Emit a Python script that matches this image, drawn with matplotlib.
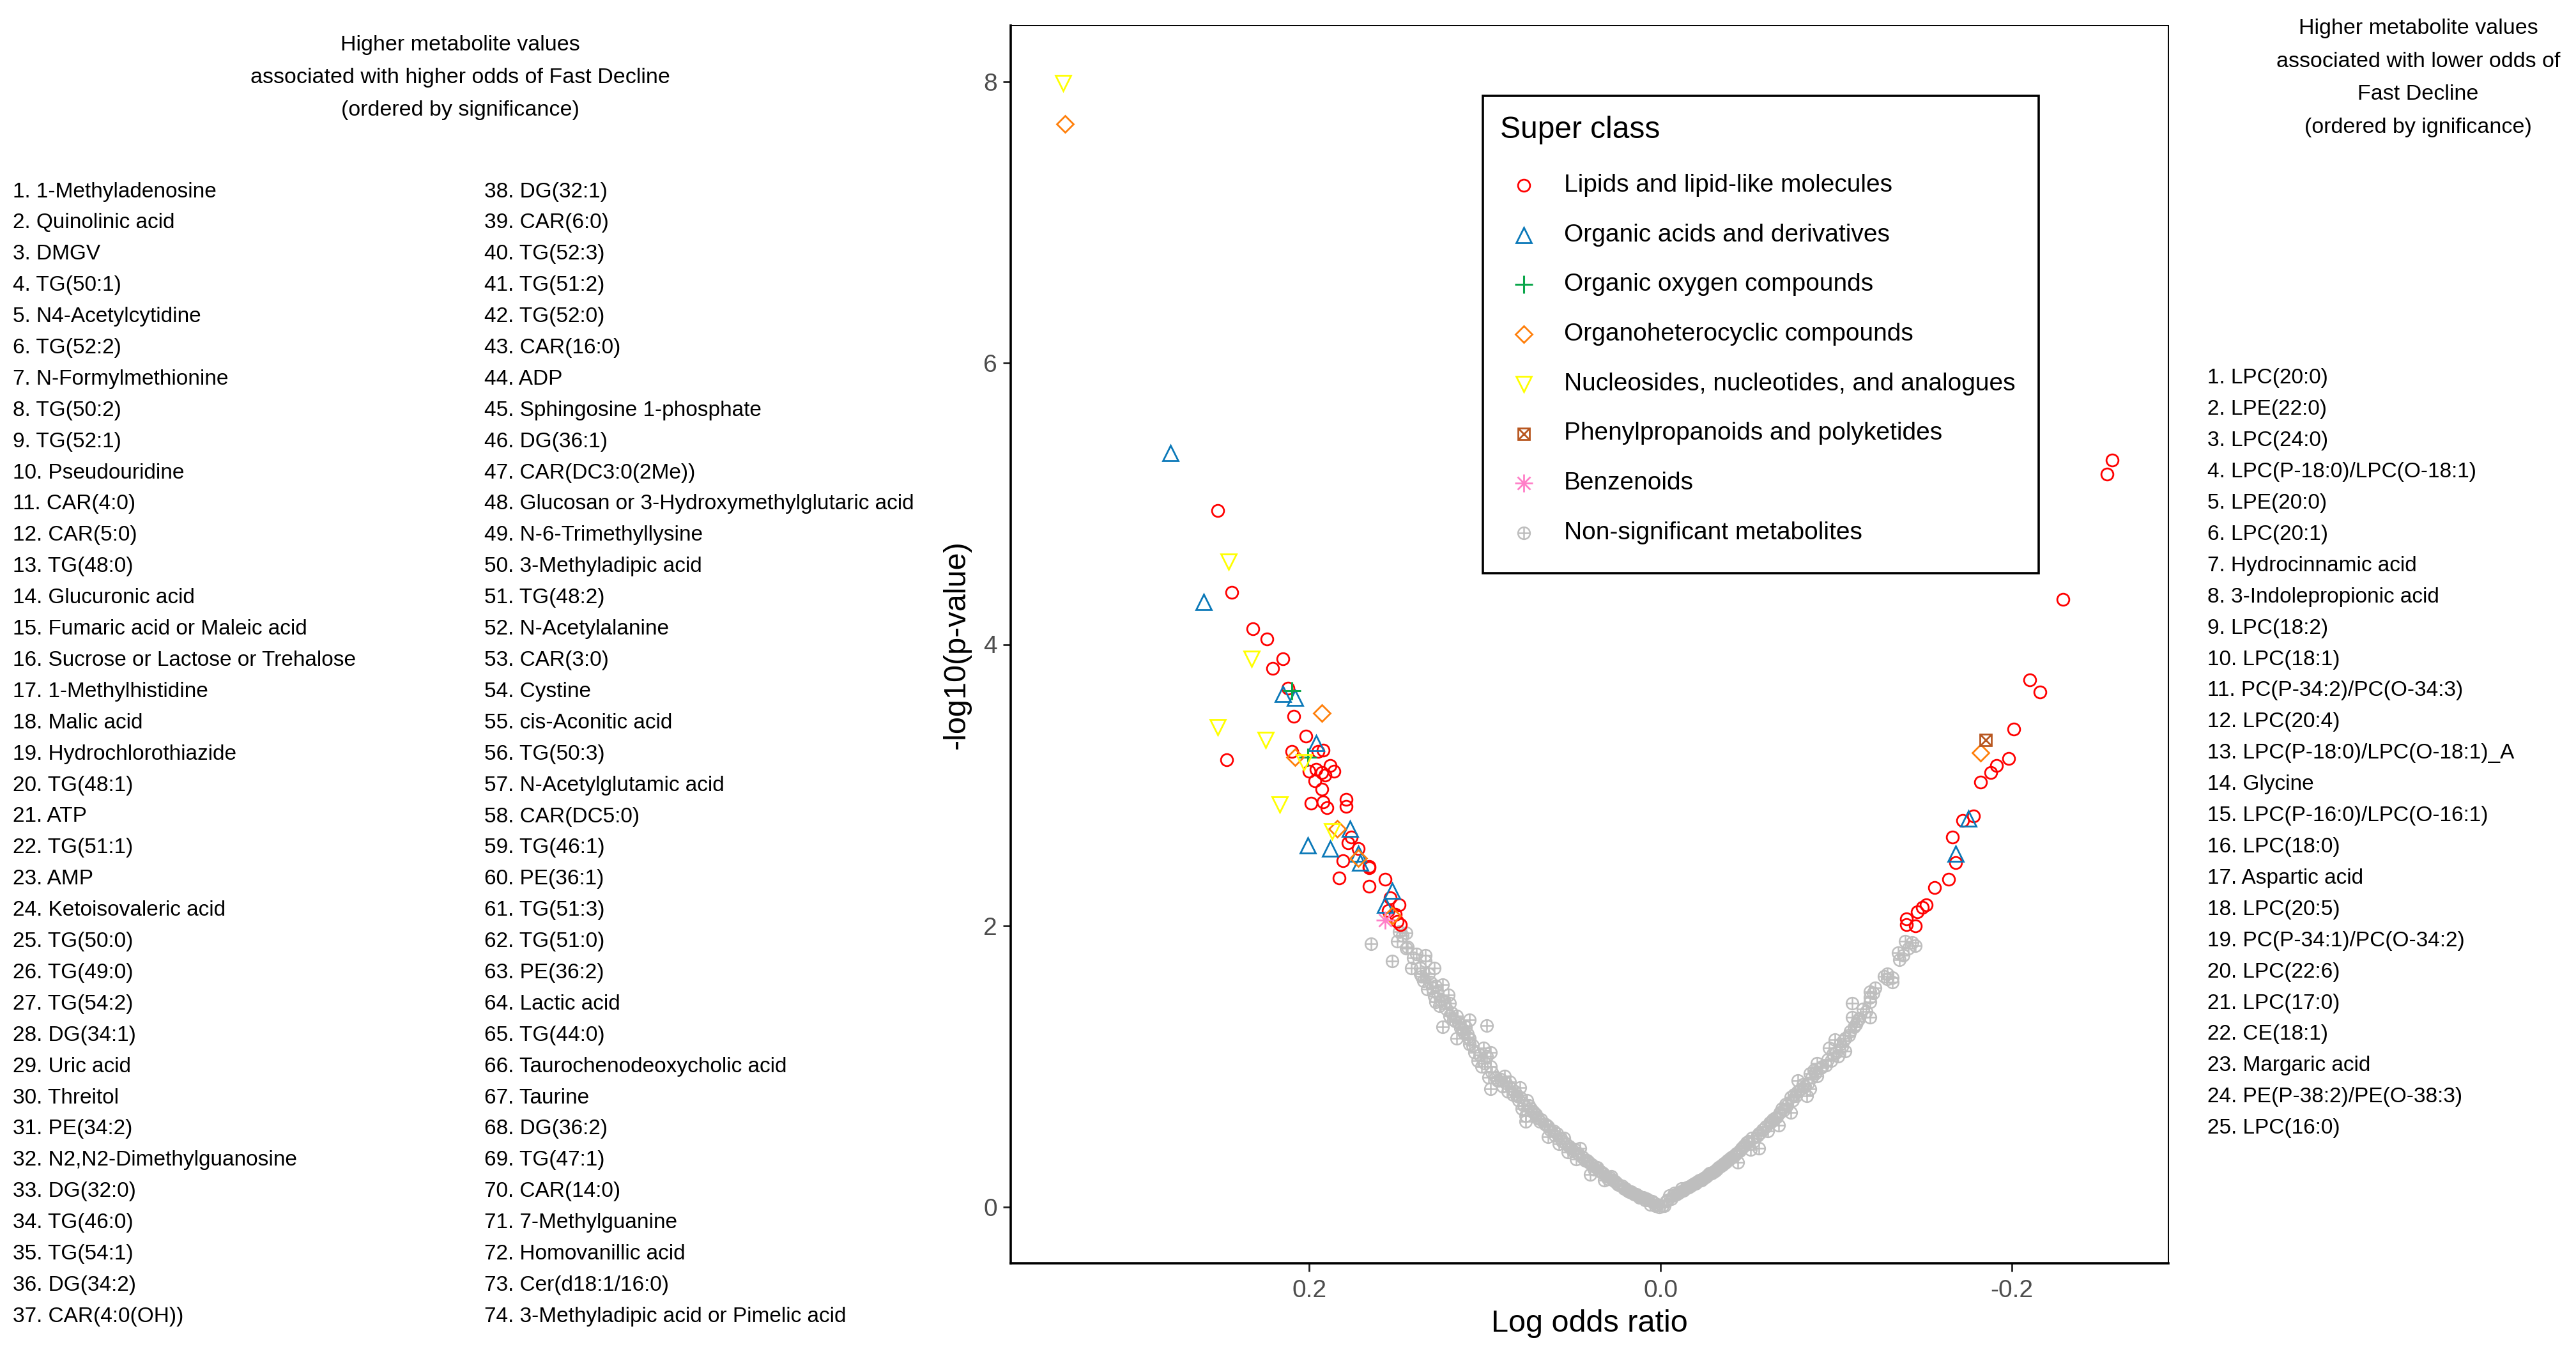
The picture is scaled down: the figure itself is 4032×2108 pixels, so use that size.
import matplotlib

matplotlib.use("Agg")
import matplotlib.pyplot as plt
import matplotlib.lines as mlines
from matplotlib.patches import Rectangle

plt.rcParams["font.family"] = ["Liberation Sans", "DejaVu Sans"]

W, H = 4032, 2108  # pixels

# ---- data (log odds ratio, -log10 p) ----
lipid_x = [0.252, 0.244, 0.232, 0.224, 0.215, 0.221, 0.212, 0.209, 0.247, 0.202,
           0.195, 0.192, 0.210, 0.188, 0.186, 0.200, 0.196, 0.193, 0.191, 0.197,
           0.193, 0.199, 0.192, 0.190, 0.179, 0.179, 0.176, 0.178, 0.172, 0.181,
           0.166, 0.166, 0.183, 0.166, 0.157, 0.154, 0.149, 0.155, 0.151, 0.148,
           0.150,
           -0.257, -0.254, -0.229, -0.210, -0.216, -0.201, -0.198, -0.191, -0.188,
           -0.182, -0.178, -0.172, -0.166, -0.168, -0.164, -0.156, -0.151, -0.149,
           -0.146, -0.140, -0.140, -0.145]
lipid_y = [4.95, 4.37, 4.11, 4.04, 3.90, 3.83, 3.69, 3.49, 3.18, 3.35,
           3.24, 3.25, 3.24, 3.14, 3.10, 3.10, 3.11, 3.09, 3.07, 3.03,
           2.97, 2.87, 2.88, 2.84, 2.90, 2.85, 2.63, 2.59, 2.55, 2.46,
           2.42, 2.41, 2.34, 2.28, 2.33, 2.20, 2.15, 2.11, 2.08, 2.01,
           2.03,
           5.31, 5.21, 4.32, 3.75, 3.66, 3.40, 3.19, 3.14, 3.09,
           3.02, 2.78, 2.75, 2.63, 2.45, 2.33, 2.27, 2.15, 2.13,
           2.10, 2.05, 2.01, 2.00]

acid_x = [0.279, 0.260, 0.215, 0.208, 0.196, 0.177, 0.201, 0.188, 0.172, 0.171,
          0.153, 0.157, -0.175, -0.168]
acid_y = [5.36, 4.30, 3.65, 3.62, 3.30, 2.69, 2.57, 2.55, 2.51, 2.45,
          2.25, 2.15, 2.76, 2.51]

oxygen_x = [0.210, 0.201]
oxygen_y = [3.67, 3.20]

hetero_x = [0.339, 0.193, 0.208, 0.184, 0.172, 0.153, -0.182]
hetero_y = [7.70, 3.51, 3.20, 2.69, 2.48, 2.07, 3.23]

nucleo_x = [0.340, 0.246, 0.233, 0.252, 0.225, 0.203, 0.217, 0.187]
nucleo_y = [7.99, 4.59, 3.90, 3.41, 3.32, 3.16, 2.86, 2.67]

phenyl_x = [-0.185]
phenyl_y = [3.32]

benz_x = [0.157]
benz_y = [2.04]

# non-significant metabolites: scattered points along both arms
ns_x = [0.165, 0.153, 0.149, 0.145, 0.150, 0.144, 0.145, 0.139, 0.134, 0.134,
        0.142, 0.137, 0.129, 0.132, 0.135, 0.133, 0.128, 0.124, 0.121, 0.129,
        0.128, 0.123, 0.120, 0.122, 0.120, 0.116, 0.109, 0.115, 0.124, 0.099,
        0.111, 0.110, 0.116, 0.109, 0.109, 0.101, 0.097, 0.099, 0.102, 0.097,
        0.098, 0.094, 0.097, 0.089, 0.086, 0.080, 0.087, 0.082, 0.076, 0.079,
        0.077, 0.077, 0.072, 0.069, 0.064, 0.064, 0.059, 0.055, 0.058, 0.053,
        0.046, 0.048, 0.041, 0.040, 0.036, 0.032, 0.028, 0.024, 0.018, 0.012,
        0.006, 0.001, 0.003, 0.009, 0.015, 0.021, 0.026, 0.030, 0.034, 0.038,
        0.043, 0.045, 0.050, 0.052, 0.056, 0.061, 0.066, 0.070, 0.074, 0.078,
        0.081, 0.084, 0.090, 0.093, 0.104, 0.106, 0.112, 0.114, 0.118, 0.126,
        0.127, 0.131, 0.137, 0.141, 0.147,
        -0.005, -0.012, -0.020, -0.026, -0.031, -0.036, -0.040, -0.044, -0.045,
        -0.049, -0.051, -0.056, -0.056, -0.061, -0.062, -0.066, -0.067, -0.069,
        -0.074, -0.074, -0.078, -0.078, -0.083, -0.085, -0.085, -0.089, -0.089,
        -0.094, -0.097, -0.096, -0.101, -0.099, -0.102, -0.105, -0.105, -0.108,
        -0.109, -0.113, -0.109, -0.119, -0.117, -0.119, -0.119, -0.119, -0.122,
        -0.129, -0.132, -0.132, -0.129, -0.135, -0.136, -0.139, -0.141, -0.145,
        -0.002, -0.008, -0.015, -0.017, -0.023, -0.028, -0.033, -0.038, -0.042,
        -0.047, -0.053, -0.058, -0.064, -0.071, -0.076, -0.081, -0.087, -0.091,
        -0.100, -0.103, -0.111, -0.115, -0.121, -0.127, -0.138, -0.143]
ns_y = [1.87, 1.75, 1.96, 1.95, 1.89, 1.85, 1.84, 1.80, 1.79, 1.75,
        1.70, 1.70, 1.70, 1.66, 1.61, 1.55, 1.57, 1.58, 1.51, 1.50,
        1.46, 1.46, 1.45, 1.41, 1.36, 1.36, 1.33, 1.31, 1.28, 1.29,
        1.28, 1.23, 1.20, 1.20, 1.16, 1.13, 1.10, 1.07, 1.00, 1.00,
        0.92, 0.92, 0.84, 0.93, 0.89, 0.85, 0.82, 0.79, 0.76, 0.70,
        0.65, 0.61, 0.67, 0.61, 0.57, 0.50, 0.52, 0.49, 0.45, 0.39,
        0.42, 0.34, 0.32, 0.23, 0.28, 0.19, 0.22, 0.16, 0.11, 0.07,
        0.02, 0.00, 0.01, 0.05, 0.09, 0.13, 0.18, 0.20, 0.25, 0.27,
        0.33, 0.36, 0.40, 0.43, 0.47, 0.54, 0.59, 0.63, 0.70, 0.72,
        0.76, 0.80, 0.86, 0.90, 1.04, 1.10, 1.24, 1.27, 1.33, 1.43,
        1.52, 1.60, 1.66, 1.77, 1.93,
        0.08, 0.13, 0.17, 0.22, 0.26, 0.31, 0.35, 0.32, 0.40,
        0.46, 0.41, 0.42, 0.52, 0.54, 0.60, 0.64, 0.58, 0.70,
        0.67, 0.78, 0.82, 0.90, 0.79, 0.84, 0.95, 0.93, 1.02,
        1.01, 1.04, 1.13, 1.07, 1.19, 1.16, 1.11, 1.20, 1.25,
        1.35, 1.34, 1.45, 1.35, 1.39, 1.46, 1.49, 1.53, 1.56,
        1.66, 1.63, 1.60, 1.62, 1.81, 1.76, 1.89, 1.84, 1.86,
        0.01, 0.10, 0.14, 0.15, 0.19, 0.24, 0.28, 0.33, 0.37,
        0.43, 0.47, 0.55, 0.62, 0.73, 0.80, 0.87, 0.97, 0.99,
        1.10, 1.14, 1.30, 1.41, 1.52, 1.64, 1.79, 1.88]

# non-significant metabolites in the dense lower part of the V (solid band)
band_x = [0.002, 0.004, 0.005, 0.007, 0.008, 0.010, 0.011, 0.013, 0.014, 0.016,
          0.017, 0.019, 0.020, 0.022, 0.025, 0.027, 0.029, 0.031, 0.033, 0.035,
          0.037, 0.039, 0.042, 0.044, 0.047, 0.049, 0.051, 0.054, 0.057, 0.060,
          0.063, 0.065, 0.068, 0.071, 0.073, 0.075, 0.080, 0.083, 0.085, 0.088,
          0.091, 0.096, 0.100, 0.103, 0.107, 0.110, 0.113, 0.117, 0.119, 0.125,
          0.130, 0.136,
          -0.001, -0.003, -0.004, -0.006, -0.007, -0.009, -0.010, -0.011, -0.013,
          -0.014, -0.016, -0.018, -0.019, -0.021, -0.022, -0.024, -0.025, -0.027,
          -0.029, -0.030, -0.032, -0.034, -0.035, -0.037, -0.039, -0.041, -0.043,
          -0.046, -0.048, -0.050, -0.052, -0.055, -0.057, -0.060, -0.063, -0.065,
          -0.068, -0.070, -0.072, -0.075, -0.077, -0.080, -0.082, -0.084, -0.086,
          -0.088, -0.092, -0.095, -0.098, -0.104, -0.107, -0.110, -0.112]
band_y = [0.02, 0.03, 0.04, 0.05, 0.06, 0.07, 0.07, 0.08, 0.09, 0.10,
          0.11, 0.12, 0.13, 0.15, 0.17, 0.19, 0.21, 0.22, 0.24, 0.26,
          0.28, 0.30, 0.33, 0.35, 0.38, 0.41, 0.42, 0.45, 0.49, 0.51,
          0.55, 0.58, 0.62, 0.66, 0.68, 0.72, 0.78, 0.82, 0.84, 0.88,
          0.91, 0.96, 1.02, 1.08, 1.15, 1.21, 1.26, 1.32, 1.38, 1.47,
          1.56, 1.64,
          0.01, 0.04, 0.05, 0.06, 0.08, 0.09, 0.10, 0.11, 0.12,
          0.13, 0.14, 0.16, 0.17, 0.18, 0.19, 0.20, 0.21, 0.23,
          0.24, 0.25, 0.27, 0.29, 0.30, 0.32, 0.34, 0.36, 0.38,
          0.42, 0.44, 0.47, 0.49, 0.51, 0.53, 0.57, 0.61, 0.63,
          0.67, 0.69, 0.72, 0.76, 0.79, 0.84, 0.86, 0.88, 0.92,
          0.95, 1.00, 1.05, 1.09, 1.18, 1.22, 1.28, 1.32]

classes = ["Lipids and lipid-like molecules", "Organic acids and derivatives",
           "Organic oxygen compounds", "Organoheterocyclic compounds",
           "Nucleosides, nucleotides, and analogues", "Phenylpropanoids and polyketides",
           "Benzenoids", "Non-significant metabolites"]

higher_odds = [
    "1-Methyladenosine", "Quinolinic acid", "DMGV", "TG(50:1)", "N4-Acetylcytidine",
    "TG(52:2)", "N-Formylmethionine", "TG(50:2)", "TG(52:1)", "Pseudouridine",
    "CAR(4:0)", "CAR(5:0)", "TG(48:0)", "Glucuronic acid", "Fumaric acid or Maleic acid",
    "Sucrose or Lactose or Trehalose", "1-Methylhistidine", "Malic acid",
    "Hydrochlorothiazide", "TG(48:1)", "ATP", "TG(51:1)", "AMP", "Ketoisovaleric acid",
    "TG(50:0)", "TG(49:0)", "TG(54:2)", "DG(34:1)", "Uric acid", "Threitol", "PE(34:2)",
    "N2,N2-Dimethylguanosine", "DG(32:0)", "TG(46:0)", "TG(54:1)", "DG(34:2)",
    "CAR(4:0(OH))", "DG(32:1)", "CAR(6:0)", "TG(52:3)", "TG(51:2)", "TG(52:0)",
    "CAR(16:0)", "ADP", "Sphingosine 1-phosphate", "DG(36:1)", "CAR(DC3:0(2Me))",
    "Glucosan or 3-Hydroxymethylglutaric acid", "N-6-Trimethyllysine",
    "3-Methyladipic acid", "TG(48:2)", "N-Acetylalanine", "CAR(3:0)", "Cystine",
    "cis-Aconitic acid", "TG(50:3)", "N-Acetylglutamic acid", "CAR(DC5:0)", "TG(46:1)",
    "PE(36:1)", "TG(51:3)", "TG(51:0)", "PE(36:2)", "Lactic acid", "TG(44:0)",
    "Taurochenodeoxycholic acid", "Taurine", "DG(36:2)", "TG(47:1)", "CAR(14:0)",
    "7-Methylguanine", "Homovanillic acid", "Cer(d18:1/16:0)",
    "3-Methyladipic acid or Pimelic acid"]

lower_odds = [
    "LPC(20:0)", "LPE(22:0)", "LPC(24:0)", "LPC(P-18:0)/LPC(O-18:1)", "LPE(20:0)",
    "LPC(20:1)", "Hydrocinnamic acid", "3-Indolepropionic acid", "LPC(18:2)",
    "LPC(18:1)", "PC(P-34:2)/PC(O-34:3)", "LPC(20:4)", "LPC(P-18:0)/LPC(O-18:1)_A",
    "Glycine", "LPC(P-16:0)/LPC(O-16:1)", "LPC(18:0)", "Aspartic acid", "LPC(20:5)",
    "PC(P-34:1)/PC(O-34:2)", "LPC(22:6)", "LPC(17:0)", "CE(18:1)", "Margaric acid",
    "PE(P-38:2)/PE(O-38:3)", "LPC(16:0)"]

left_title = ["Higher metabolite values", "associated with higher odds of Fast Decline",
              "(ordered by significance)"]
right_title = ["Higher metabolite values", "associated with lower odds of",
               "Fast Decline", "(ordered by ignificance)"]

# ---- marker styles per super class: list of (marker, size pt, edge width) ----
GREY = "#BEBEBE"
styles = {
    classes[0]: ("#FF0000", [("o", 13.5, 2.0)]),
    classes[1]: ("#0A78B8", [("^", 17, 2.0)]),
    classes[2]: ("#0AA64A", [("+", 20, 2.2)]),
    classes[3]: ("#FF7F0A", [("D", 13.5, 2.0)]),
    classes[4]: ("#FFFF00", [("v", 17, 2.0)]),
    classes[5]: ("#B8561F", [("s", 13, 2.0), ("x", 13, 2.0)]),
    classes[6]: ("#FF7FC8", [("+", 20, 2.0), ("x", 14, 2.0)]),
    classes[7]: (GREY, [("o", 13.5, 1.8), ("+", 13.5, 1.8)]),
}
series = [
    (classes[7], band_x, band_y),
    (classes[7], ns_x, ns_y),
    (classes[0], lipid_x, lipid_y),
    (classes[1], acid_x, acid_y),
    (classes[2], oxygen_x, oxygen_y),
    (classes[3], hetero_x, hetero_y),
    (classes[4], nucleo_x, nucleo_y),
    (classes[5], phenyl_x, phenyl_y),
    (classes[6], benz_x, benz_y),
]


def fx(px):
    return px / W


def fy(py):
    return 1 - py / H


fig = plt.figure(figsize=(W / 100, H / 100), dpi=100)
ax = fig.add_axes([fx(1582), fy(1977), fx(3394) - fx(1582), fy(40) - fy(1977)])

for name, xs, ys in series:
    color, parts = styles[name]
    for m, ms, mew in parts:
        ax.plot(xs, ys, linestyle="none", marker=m, markersize=ms, markeredgewidth=mew,
                markerfacecolor="none", markeredgecolor=color, zorder=3)

ax.set_xlim(0.370, -0.289)
ax.set_ylim(-0.40, 8.40)
ax.set_xticks([0.2, 0.0, -0.2])
ax.set_xticklabels(["0.2", "0.0", "-0.2"])
ax.set_yticks([0, 2, 4, 6, 8])
ax.tick_params(axis="both", direction="out", length=9, width=2, colors="#222222",
               labelcolor="#4D4D4D", labelsize=28, pad=6)
ax.tick_params(axis="x", pad=9)
for side in ["left", "bottom"]:
    ax.spines[side].set_linewidth(2.6)
for side in ["top", "right"]:
    ax.spines[side].set_linewidth(1.4)
ax.set_xlabel("Log odds ratio", fontsize=35, labelpad=8)
ax.set_ylabel("-log10(p-value)", fontsize=35, labelpad=14)

# ---- legend box ----
fig.add_artist(Rectangle((fx(2321), fy(897)), fx(3191) - fx(2321), fy(150) - fy(897),
                         transform=fig.transFigure, fill=False, edgecolor="black",
                         linewidth=2.6))
fig.text(fx(2348), fy(203), "Super class", fontsize=34.5, va="center", ha="left")
for i, name in enumerate(classes):
    yy = fy(290 + i * 77.7)
    color, parts = styles[name]
    for m, ms, mew in parts:
        fig.add_artist(mlines.Line2D([fx(2385)], [yy], transform=fig.transFigure,
                                     linestyle="none", marker=m, markersize=ms,
                                     markeredgewidth=mew, markerfacecolor="none",
                                     markeredgecolor=color))
    fig.text(fx(2448), yy, name, fontsize=28, va="center", ha="left")

# ---- side annotations ----
for i, line in enumerate(left_title):
    fig.text(fx(720), fy(70 + i * 51.5), line, fontsize=24.5, ha="center", va="center")
for i, line in enumerate(right_title):
    fig.text(fx(3785), fy(45 + i * 51.5), line, fontsize=24.5, ha="center", va="center")

step = 48.9
for i, name in enumerate(higher_odds):
    col, row = divmod(i, 37)
    xpos = 20 if col == 0 else 758
    fig.text(fx(xpos), fy(300 + row * step), f"{i + 1}. {name}", fontsize=24,
             ha="left", va="center")
for i, name in enumerate(lower_odds):
    fig.text(fx(3455), fy(592 + i * step), f"{i + 1}. {name}", fontsize=24,
             ha="left", va="center")

fig.savefig("out.png", dpi=100, facecolor="white")
